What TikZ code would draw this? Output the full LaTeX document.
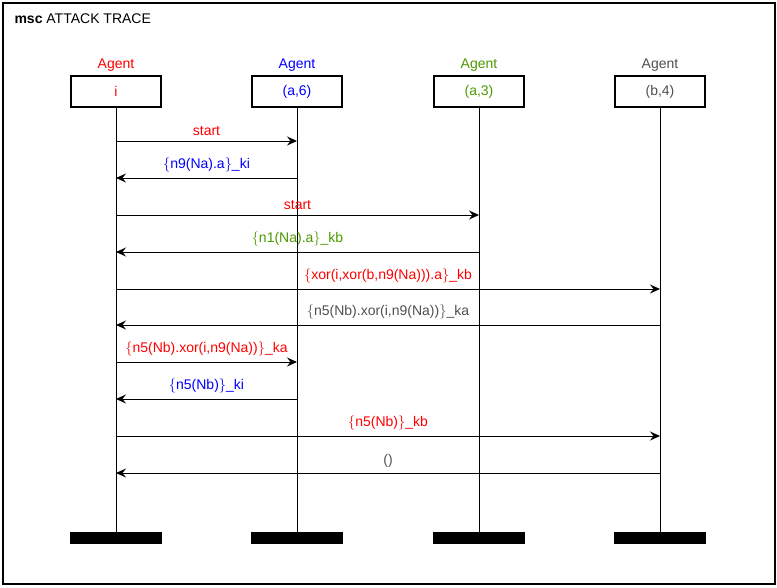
\documentclass[tikz,border=0pt]{standalone}
\usepackage{fontspec}
\setmainfont{Liberation Sans}
\usetikzlibrary{arrows.meta,positioning}
\definecolor{agred}{RGB}{255,0,0}
\definecolor{agblue}{RGB}{0,0,255}
\definecolor{aggreen}{RGB}{76,153,0}
\definecolor{aggray}{RGB}{80,80,80}
\newcommand{\lb}{$\{$}
\newcommand{\rb}{$\}$}
\begin{document}
\begin{tikzpicture}[x=1pt,y=-1pt,>={Stealth[length=10pt,width=9pt,inset=3.5pt]},font=\fontsize{14}{16}\selectfont,
		agentbox/.style={rectangle,draw,line width=1.2pt,minimum width=90pt,minimum height=31pt,inner sep=0pt},
		endbar/.style={rectangle,fill=black,minimum width=92pt,minimum height=12pt,inner sep=0pt},
		msg/.style={->,line width=1pt},
		msglabel/.style={midway,above,inner sep=5pt}]
	\useasboundingbox (0,0) rectangle (777,587);
	\draw[line width=1.4pt] (3,3) rectangle (775,584);
	\node [anchor=west] (title) at (11,19) {\textbf{msc} ATTACK TRACE};
	% agents
	\node [agentbox,text=agred] (i) at (116,91.5) {i};
	\node [agentbox,text=agblue] (a6) at (297,91.5) {(a,6)};
	\node [agentbox,text=aggreen] (a3) at (479,91.5) {(a,3)};
	\node [agentbox,text=aggray] (b4) at (660,91.5) {(b,4)};
	\node [above=3pt of i,text=agred,inner sep=1pt] (ti) {Agent};
	\node [above=3pt of a6,text=agblue,inner sep=1pt] (ta6) {Agent};
	\node [above=3pt of a3,text=aggreen,inner sep=1pt] (ta3) {Agent};
	\node [above=3pt of b4,text=aggray,inner sep=1pt] (tb4) {Agent};
	\node [endbar] (ei) at (116,538) {};
	\node [endbar] (ea6) at (297,538) {};
	\node [endbar] (ea3) at (479,538) {};
	\node [endbar] (eb4) at (660,538) {};
	\draw[line width=1pt] (i) -- (ei);
	\draw[line width=1pt] (a6) -- (ea6);
	\draw[line width=1pt] (a3) -- (ea3);
	\draw[line width=1pt] (b4) -- (eb4);
	% messages
	\draw[msg] (i |- 0,141) -- (a6 |- 0,141) node [msglabel,text=agred] {start};
	\draw[msg] (a6 |- 0,178) -- (i |- 0,178) node [msglabel,text=agblue] {\lb n9(Na).a\rb\_ki};
	\draw[msg] (i |- 0,215) -- (a3 |- 0,215) node [msglabel,text=agred] {start};
	\draw[msg] (a3 |- 0,252) -- (i |- 0,252) node [msglabel,text=aggreen] {\lb n1(Na).a\rb\_kb};
	\draw[msg] (i |- 0,289) -- (b4 |- 0,289) node [msglabel,text=agred] {\lb xor(i,xor(b,n9(Na))).a\rb\_kb};
	\draw[msg] (b4 |- 0,325) -- (i |- 0,325) node [msglabel,text=aggray] {\lb n5(Nb).xor(i,n9(Na))\rb\_ka};
	\draw[msg] (i |- 0,362) -- (a6 |- 0,362) node [msglabel,text=agred] {\lb n5(Nb).xor(i,n9(Na))\rb\_ka};
	\draw[msg] (a6 |- 0,399) -- (i |- 0,399) node [msglabel,text=agblue] {\lb n5(Nb)\rb\_ki};
	\draw[msg] (i |- 0,436) -- (b4 |- 0,436) node [msglabel,text=agred] {\lb n5(Nb)\rb\_kb};
	\draw[msg] (b4 |- 0,473) -- (i |- 0,473) node [msglabel,text=aggray] {()};
\end{tikzpicture}
\end{document}
